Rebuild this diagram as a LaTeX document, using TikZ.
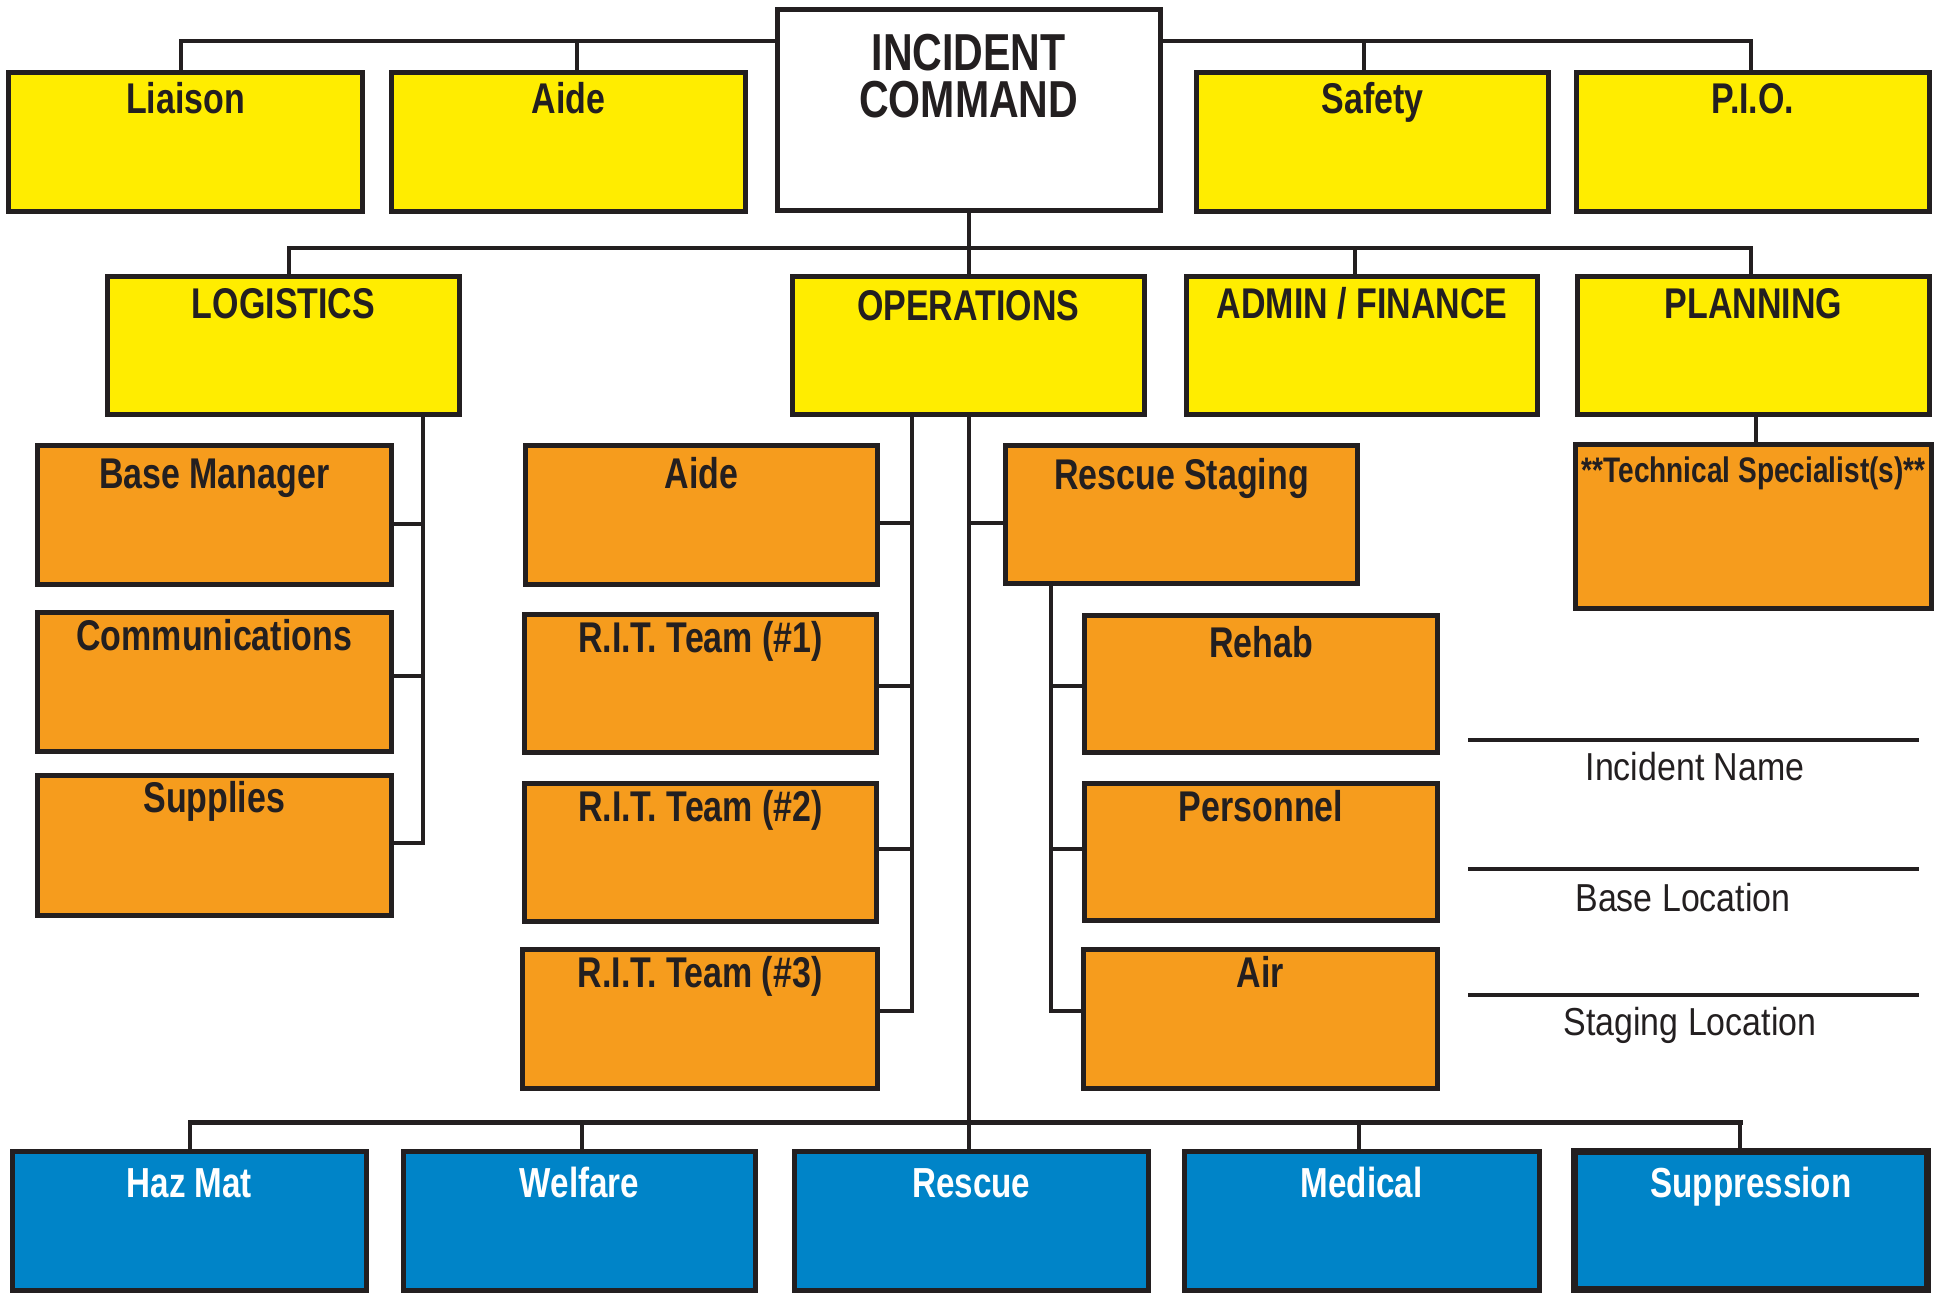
\documentclass[tikz,border=0pt]{standalone}
\usepackage{fontspec}
\newfontfamily\cfont[FakeStretch=0.79]{Liberation Sans}
\newfontfamily\lfont[FakeStretch=0.87]{Liberation Sans}
\definecolor{edge}{HTML}{231F20}
\definecolor{yel}{HTML}{FFED00}
\definecolor{org}{HTML}{F69C1D}
\definecolor{blu}{HTML}{0084C8}
\newcommand\mkbox[8]{%
  \pgfmathsetmacro\bw{#5-#3-5}\pgfmathsetmacro\bh{#6-#4-5}%
  \node[box#2, minimum width=\bw pt, minimum height=\bh pt,
        label={[lab#2, yshift=-#7pt]north:#8}] (#1) at ({(#3+#5)/2},{(#4+#6)/2}) {};}
\begin{document}
\begin{tikzpicture}[x=1pt,y=-1pt,
  box/.style={draw=edge, line width=5pt, inner sep=0pt, rectangle},
  boxyel/.style={box, fill=yel},
  boxorg/.style={box, fill=org},
  boxblu/.style={box, fill=blu},
  boxwht/.style={box, fill=white},
  lab/.style={anchor=base, inner sep=0pt, text=edge, font=\cfont\bfseries\fontsize{43}{46}\selectfont},
  labyel/.style={lab},
  laborg/.style={lab},
  labsml/.style={lab, font=\cfont\bfseries\fontsize{35.5}{40}\selectfont},
  boxsml/.style={boxorg},
  labblu/.style={lab, text=white, font=\cfont\bfseries\fontsize{42}{46}\selectfont},
  labic/.style={anchor=base, inner sep=0pt, text=edge,
                font=\cfont\bfseries\fontsize{52}{52}\selectfont},
  conn/.style={draw=edge, line width=4pt, line join=miter},
  bus/.style={draw=edge, line width=5pt, line cap=rect},
  formline/.style={draw=edge, line width=3.5pt},
  formtxt/.style={anchor=base, inner sep=0pt, text=edge, font=\lfont\fontsize{39}{42}\selectfont}]
\useasboundingbox (0,0) rectangle (1946,1293);

% ---------------- connector junction coordinates
\coordinate (jL)  at (181,41);
\coordinate (jA)  at (577,41);
\coordinate (jS)  at (1364,41);
\coordinate (jP)  at (1751,41);
\coordinate (jLog) at (289,248);
\coordinate (jAd)  at (1355,248);
\coordinate (jPl)  at (1751,248);
\coordinate (logx) at (423,843);
\coordinate (opsx) at (912,1011);
\coordinate (opsm) at (969,1122);
\coordinate (rsx)  at (1051,1011);
\coordinate (techx) at (1756,430);
\coordinate (bbL) at (190,1122);
\coordinate (bbR) at (1740,1122);
\coordinate (bbW) at (582,1122);
\coordinate (bbM) at (1359,1122);

% ---------------- top row
\mkbox{liaison}{yel}{6}{70}{365}{214}{43}{Liaison}
\mkbox{aideT}{yel}{389}{70}{748}{214}{43}{Aide}
\node[boxwht, minimum width=383.5pt, minimum height=201pt,
      label={[labic, yshift=-63pt]north:INCIDENT},
      label={[labic, yshift=-110pt]north:COMMAND}] (ic) at (968.75,110) {};
\mkbox{safety}{yel}{1194}{70}{1551}{214}{43}{Safety}
\mkbox{pio}{yel}{1574}{70}{1932}{214}{43}{P.I.O.}

% ---------------- second row
\mkbox{logistics}{yel}{105}{274}{462}{417}{44}{LOGISTICS}
\mkbox{ops}{yel}{790}{274}{1146.5}{417}{46}{OPERATIONS}
\mkbox{admin}{yel}{1184}{274}{1540}{417}{44}{ADMIN / FINANCE}
\mkbox{planning}{yel}{1575}{274}{1932}{417}{44}{PLANNING}

% ---------------- logistics column
\mkbox{basemgr}{org}{35}{443}{393.5}{587}{45}{Base Manager}
\mkbox{comm}{org}{35}{610}{393.5}{754}{40}{Communications}
\mkbox{supplies}{org}{35}{773}{393.5}{918}{39}{Supplies}

% ---------------- operations column
\mkbox{aideO}{org}{523}{443}{880}{587}{45}{Aide}
\mkbox{rit1}{org}{522}{612}{879}{755}{40}{R.I.T. Team (\#1)}
\mkbox{rit2}{org}{522}{781}{879}{924}{40}{R.I.T. Team (\#2)}
\mkbox{rit3}{org}{520}{947}{880}{1091}{40}{R.I.T. Team (\#3)}

% ---------------- rescue staging column
\mkbox{rstaging}{org}{1003}{443}{1360}{586}{46}{Rescue Staging}
\mkbox{rehab}{org}{1082}{613}{1440}{755}{44}{Rehab}
\mkbox{personnel}{org}{1082}{781}{1440}{923}{40}{Personnel}
\mkbox{air}{org}{1081}{947}{1440}{1091}{40}{Air}

% ---------------- planning
\mkbox{tech}{sml}{1573}{442}{1934}{611}{40}{**Technical Specialist(s)**}

% ---------------- bottom row
\mkbox{hazmat}{blu}{10}{1149}{368.6}{1293}{48}{Haz Mat}
\mkbox{welfare}{blu}{401}{1149}{758}{1293}{48}{Welfare}
\mkbox{rescue}{blu}{792}{1149}{1150.5}{1293}{48}{Rescue}
\mkbox{medical}{blu}{1181.6}{1149}{1541.5}{1293}{48}{Medical}
\node[boxblu, line width=7pt, minimum width=353pt, minimum height=138pt,
      label={[labblu, yshift=-49pt]north:Suppression}] (suppression) at (1751,1220.5) {};

% ---------------- connectors
\draw[conn] (liaison.north -| jL) |- (ic.west |- jL);
\draw[conn] (aideT.north -| jA) -- (jA);
\draw[conn] (ic.east |- jP) -| (pio.north -| jP);
\draw[conn] (safety.north -| jS) -- (jS);
\draw[conn] (ic.south) -- (ops.north -| ic.south);
\draw[conn] (logistics.north -| jLog) |- (jPl) -- (planning.north -| jPl);
\draw[conn] (admin.north -| jAd) -- (jAd);

\draw[conn] (logistics.south -| logx) -- (logx) -- (supplies.east |- logx);
\draw[conn] (basemgr.east |- 0,524) -- (logx |- 0,524);
\draw[conn] (comm.east |- 0,676) -- (logx |- 0,676);

\draw[conn] (ops.south -| opsx) -- (opsx) -- (rit3.east |- opsx);
\draw[conn] (aideO.east |- 0,523) -- (opsx |- 0,523);
\draw[conn] (rit1.east |- 0,686) -- (opsx |- 0,686);
\draw[conn] (rit2.east |- 0,849) -- (opsx |- 0,849);

\draw[conn] (ops.south -| opsm) -- (rescue.north -| opsm);
\draw[conn] (opsm |- 0,523) -- (rstaging.west |- 0,523);

\draw[conn] (rstaging.south -| rsx) -- (rsx) -- (air.west |- rsx);
\draw[conn] (rsx |- 0,686) -- (rehab.west |- 0,686);
\draw[conn] (rsx |- 0,849) -- (personnel.west |- 0,849);

\draw[conn] (planning.south -| techx) -- (tech.north -| techx);

\draw[bus] (bbL) -- (bbR);
\draw[conn] (hazmat.north -| bbL) -- (bbL);
\draw[conn] (welfare.north -| bbW) -- (bbW);
\draw[conn] (medical.north -| bbM) -- (bbM);
\draw[conn] (suppression.north -| bbR) -- (bbR);

% ---------------- form lines
\coordinate (f1a) at (1468,740);  \coordinate (f1b) at (1919,740);
\coordinate (f2a) at (1468,869);  \coordinate (f2b) at (1919,869);
\coordinate (f3a) at (1468,995);  \coordinate (f3b) at (1919,995);
\draw[formline] (f1a) -- (f1b);
\draw[formline] (f2a) -- (f2b);
\draw[formline] (f3a) -- (f3b);
\node[formtxt] (incname) at (1695,780.7) {Incident Name};
\node[formtxt] (baseloc) at (1683,911) {Base Location};
\node[formtxt] (stageloc) at (1690,1035) {Staging Location};
\end{tikzpicture}
\end{document}
